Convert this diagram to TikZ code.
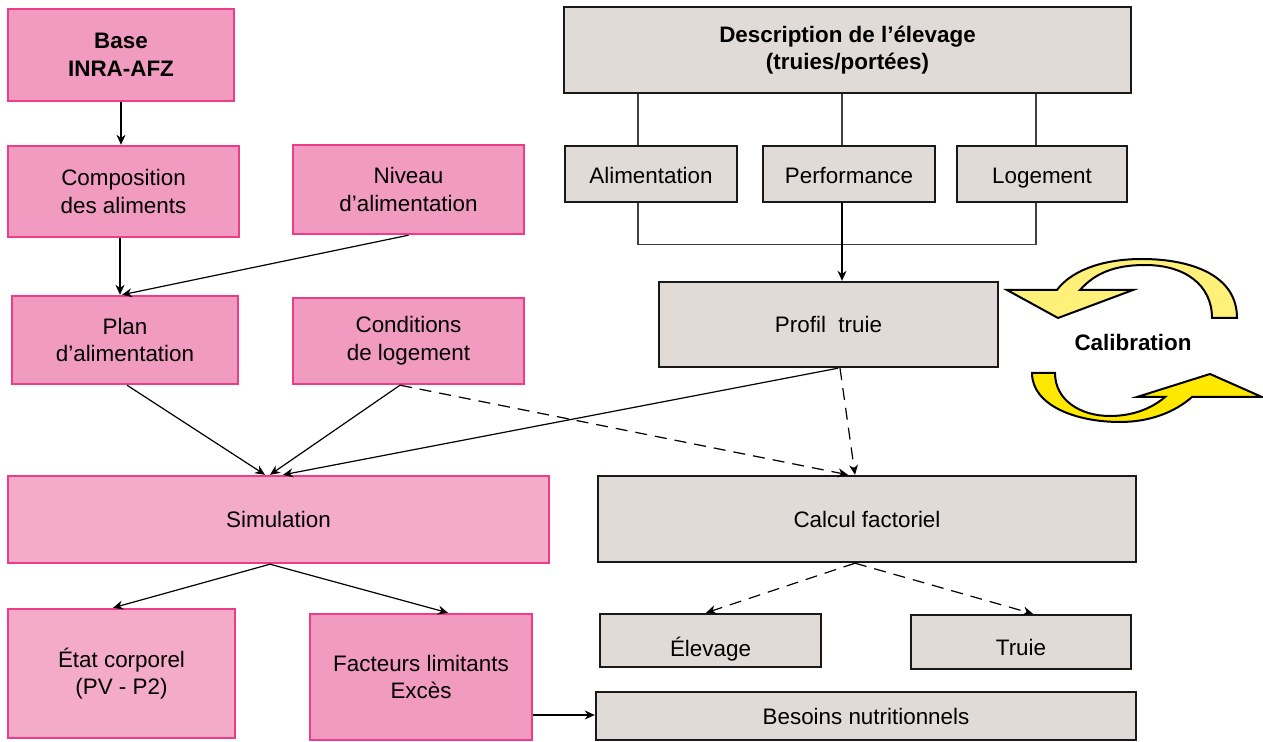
\documentclass[tikz,border=0pt]{standalone}
\usepackage{fontspec}
\setmainfont{Liberation Sans}
\usetikzlibrary{arrows.meta,calc,positioning}

\definecolor{rosefonce}{HTML}{F29BC0}
\definecolor{roseclair}{HTML}{F4ABC8}
\definecolor{rosebord}{HTML}{EC3C8A}
\definecolor{grisfond}{HTML}{E0DBD7}
\definecolor{jauneclair}{HTML}{FFF07A}
\definecolor{jaunevif}{HTML}{FFE800}

\tikzset{
  boite/.style={draw, line width=1.2pt, align=center, inner sep=2pt,
    font=\fontsize{11.2}{13.8}\selectfont},
  rose/.style={boite, fill=rosefonce, draw=rosebord},
  roseb/.style={boite, fill=roseclair, draw=rosebord},
  gris/.style={boite, fill=grisfond, draw=black!90},
  petit/.style={gris, minimum height=28pt, text height=12pt, text depth=2.3pt},
  fleche/.style={-{Stealth[length=5pt,width=4.5pt]}, line width=0.6pt},
  pointille/.style={fleche, dash pattern=on 6pt off 4pt},
  trait/.style={line width=0.6pt, draw=black!75},
  cycle/.style={draw=black, line width=1pt, line join=miter}
}

\begin{document}
\begin{tikzpicture}[x=0.5pt,y=-0.5pt]
    \useasboundingbox (0,0) rectangle (1263,742);

    \node[rose, minimum width=113pt, minimum height=46pt] (base) at (121,55) {\textbf{Base}\\\textbf{INRA-AFZ}};
    \node[rose, minimum width=115.5pt, minimum height=45.5pt] (compo) at (123.5,191.5) {Composition\\des aliments};
    \node[rose, minimum width=115.5pt, minimum height=44.5pt] (niveau) at (408.5,189.5) {Niveau\\d’alimentation};
    \node[rose, minimum width=113pt, minimum height=44pt] (plan) at (125,340) {Plan\\d’alimentation};
    \node[rose, minimum width=115.5pt, minimum height=43pt] (cond) at (408.5,341) {Conditions\\de logement};
    \node[roseb, minimum width=270.5pt, minimum height=43.5pt] (simu) at (278.5,519.5) {Simulation};
    \node[roseb, minimum width=113.5pt, minimum height=64.5pt] (etat) at (121.5,673.5) {État corporel\\(PV - P2)};
    \node[rose, minimum width=111pt, minimum height=63pt] (fact) at (421,677) {Facteurs limitants\\Excès};

    \node[gris, minimum width=283.5pt, minimum height=43pt] (desc) at (847.5,50) {\textbf{Description de l’élevage}\\\textbf{(truies/portées)}};
    \node[petit, minimum width=86pt] (alim) at (651,174) {Alimentation};
    \node[petit, minimum width=86pt] (perf) at (849,174) {Performance};
    \node[petit, minimum width=85pt] (loge) at (1042,174) {Logement};
    \node[gris, minimum width=169.5pt, minimum height=42.5pt] (profil) at (828.5,324.5) {Profil\ \ truie};
    \node[gris, minimum width=269pt, minimum height=43pt] (calcul) at (867,519) {Calcul factoriel};
    \node[gris, minimum width=110.5pt, minimum height=26.5pt] (elev) at (710.5,640.5) {\raisebox{-4pt}[8pt][0pt]{Élevage}};
    \node[gris, minimum width=110pt, minimum height=27pt] (truie) at (1021,642) {\raisebox{-2.5pt}[8pt][0pt]{Truie}};
    \node[gris, minimum width=270pt, minimum height=24pt] (besoins) at (866,716) {Besoins nutritionnels};

    \node[font=\fontsize{11.2}{13.8}\selectfont\bfseries] (calib) at (1133,342) {Calibration};

    \coordinate (c1) at ($(compo.south)+(-3.5,0)$);
    \coordinate (a1) at ($(alim.north)+(-13,0)$);
    \coordinate (p1) at ($(perf.north)+(-7,0)$);
    \coordinate (l1) at ($(loge.north)+(-6,0)$);
    \coordinate (a2) at ($(alim.south)+(-13,0)$);
    \coordinate (p2) at ($(perf.south)+(-7,0)$);
    \coordinate (l2) at ($(loge.south)+(-6,0)$);

    \draw[fleche] (base.south) -- (base.south |- compo.north);
    \draw[fleche] (c1) -- (c1 |- plan.north);
    \draw[fleche] (niveau.south) -- ($(plan.north)+(-3,0)$);
    \draw[fleche] ($(plan.south)+(2,0)$) -- ($(simu.north)+(-13.5,0)$);
    \draw[fleche] ($(cond.south)+(-8.5,0)$) -- ($(simu.north)+(-8.5,0)$);
    \draw[fleche] ($(profil.south)+(9.5,0)$) -- ($(simu.north)+(4.5,0)$);
    \draw[pointille] ($(cond.south)+(-8.5,0)$) -- ($(calcul.north)+(-19,0)$);
    \draw[pointille] ($(profil.south)+(11.5,0)$) -- ($(calcul.north)+(-12,0)$);
    \draw[fleche] ($(simu.south)+(-8.5,0)$) -- ($(etat.north)+(-8.5,0)$);
    \draw[fleche] ($(simu.south)+(-8.5,0)$) -- ($(fact.north)+(27,0)$);
    \draw[pointille] ($(calcul.south)+(-12,0)$) -- ($(elev.north)+(-4.5,0)$);
    \draw[pointille] ($(calcul.south)+(-12,0)$) -- ($(truie.north)+(12,0)$);
    \draw[fleche] ($(fact.east)+(0,38)$) -- ($(besoins.west)+(0,-1)$);

    \draw[trait] (a1) -- (a1 |- desc.south);
    \draw[trait] (p1) -- (p1 |- desc.south);
    \draw[trait] (l1) -- (l1 |- desc.south);
    \draw[trait] (a2) -- ($(a2)+(0,41)$) -| (l2);
    \draw[fleche] (p2) -- (p2 |- profil.north);

    \draw[cycle, fill=jauneclair] (1237,318) .. controls (1237,272) and (1185,259) .. (1142,259)
        .. controls (1100,259) and (1070,272) .. (1057,290) -- (1007,290) -- (1058,318) -- (1133,290) -- (1080,290)
        .. controls (1095,273) and (1115,265) .. (1145,265) .. controls (1185,265) and (1212,285) .. (1212,318) -- cycle;
    \draw[cycle, fill=jaunevif] (1032,373) .. controls (1032,405) and (1075,422) .. (1120,422)
        .. controls (1150,422) and (1175,412) .. (1192,397) -- (1262,397) -- (1210,374) -- (1137,397) -- (1165,397)
        .. controls (1150,410) and (1130,416) .. (1110,416) .. controls (1080,416) and (1055,400) .. (1055,373) -- cycle;
\end{tikzpicture}
\end{document}
